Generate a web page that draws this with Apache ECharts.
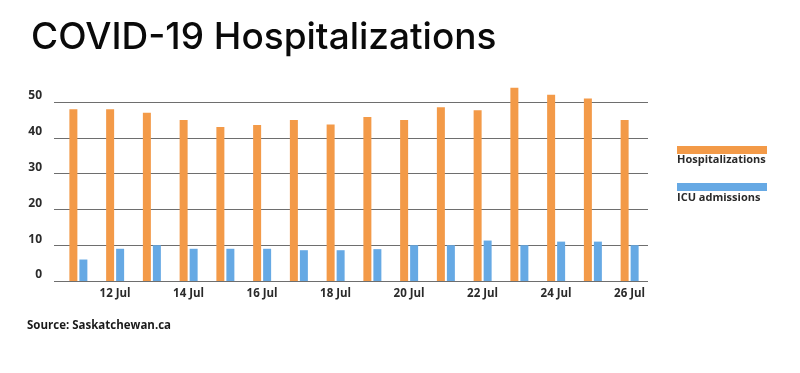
<!DOCTYPE html>
<html><head><meta charset="utf-8">
<script src="https://cdn.jsdelivr.net/npm/echarts@6/dist/echarts.min.js"></script>
<style>html,body{margin:0;padding:0;background:#fff}#c{width:800px;height:373px}</style>
</head><body><div id="c"></div>
<script>
const categories = ['11 Jul','12 Jul','13 Jul','14 Jul','15 Jul','16 Jul','17 Jul','18 Jul','19 Jul','20 Jul','21 Jul','22 Jul','23 Jul','24 Jul','25 Jul','26 Jul'];
const hospitalizations = [48, 48, 47, 45, 43, 43.6, 45, 43.7, 45.8, 45, 48.5, 47.7, 54, 52, 51, 45];
const icuAdmissions = [6, 9, 10, 9, 9, 9, 8.6, 8.6, 8.9, 10, 10, 11.3, 10, 11, 11, 10];
const yTicks = [0, 10, 20, 30, 40, 50];
const seriesNames = ['Hospitalizations', 'ICU admissions'];
const colors = ['#F39A48', '#66A9E4'];

const chart = echarts.init(document.getElementById('c'));
const font = '"Open Sans", sans-serif';
const yMin = yTicks[0], yMax = yTicks[yTicks.length - 1], yStep = yTicks[1] - yTicks[0];
const labelFont = '700 11.5px "Open Sans", sans-serif';
chart.setOption({
  animation: false,
  backgroundColor: '#fff',
  title: {
    text: 'COVID-19 Hospitalizations', left: 26, top: 14,
    textStyle: { fontFamily: 'Inter, sans-serif', fontWeight: 500, fontSize: 37, color: '#0a0a0a' }
  },
  grid: [
    { left: 54, right: 152, top: 102, bottom: 92 },
    { left: 60, right: 152, top: 102, bottom: 92 }
  ],
  xAxis: [
    { type: 'category', gridIndex: 0, data: categories, show: false },
    { type: 'category', gridIndex: 1, data: categories,
      axisLine: { show: false }, axisTick: { show: false },
      axisLabel: { interval: (i) => i % 2 === 1, margin: 7, color: '#2a2a2a', fontFamily: font, fontWeight: 700, fontSize: 11.5 } }
  ],
  yAxis: [
    { type: 'value', gridIndex: 0, min: yMin, max: yMax, interval: yStep,
      axisLine: { show: false }, axisTick: { show: false },
      splitLine: { lineStyle: { color: '#6e6e6e', width: 1 } },
      axisLabel: { margin: 12, color: '#2a2a2a', fontFamily: font, fontWeight: 700, fontSize: 12, verticalAlign: 'bottom' } },
    { type: 'value', gridIndex: 1, min: yMin, max: yMax, interval: yStep, show: false, splitLine: { show: false } }
  ],
  series: [
    { name: seriesNames[0], type: 'bar', xAxisIndex: 1, yAxisIndex: 1, data: hospitalizations, clip: false,
      barWidth: 8, barGap: '25%', itemStyle: { color: colors[0] } },
    { name: seriesNames[1], type: 'bar', xAxisIndex: 1, yAxisIndex: 1, data: icuAdmissions, clip: false,
      barWidth: 8, barGap: '25%', itemStyle: { color: colors[1] } }
  ],
  graphic: [
    { type: 'rect', left: 677, top: 146, shape: { width: 90, height: 8 }, style: { fill: colors[0] } },
    { type: 'text', left: 677, top: 154, style: { text: seriesNames[0], fill: '#2a2a2a', font: '700 11px "Open Sans", sans-serif' } },
    { type: 'rect', left: 677, top: 183, shape: { width: 90, height: 8 }, style: { fill: colors[1] } },
    { type: 'text', left: 677, top: 192, style: { text: seriesNames[1], fill: '#2a2a2a', font: '700 11px "Open Sans", sans-serif' } },
    { type: 'text', left: 27, top: 320, style: { text: 'Source: Saskatchewan.ca', fill: '#1a1a1a', font: labelFont } }
  ]
});
</script></body></html>
